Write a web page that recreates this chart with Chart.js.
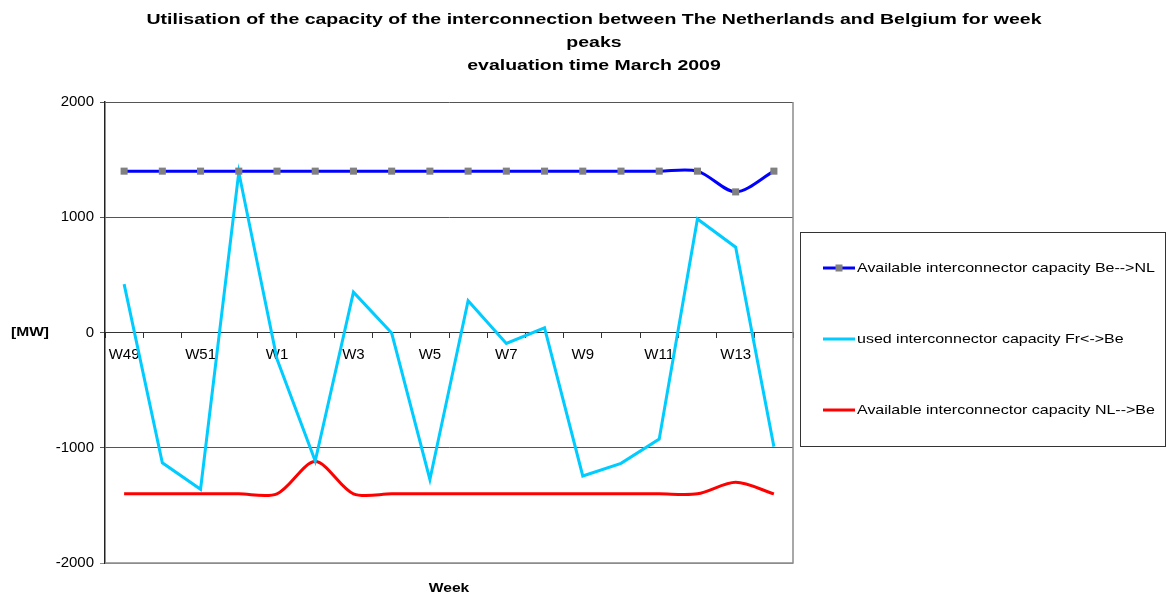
<!DOCTYPE html>
<html>
<head>
<meta charset="utf-8">
<script src="https://cdn.jsdelivr.net/npm/chart.js@4.4.1/dist/chart.umd.min.js"></script>
<style>
  html, body { margin: 0; padding: 0; background: #fff; }
  #wrap { position: relative; width: 1166px; height: 594px; }
</style>
</head>
<body>
<div id="wrap"><canvas id="chart"></canvas></div>
<script>
// ===== DATA =====
const weeks = ['W49','W50','W51','W52','W1','W2','W3','W4','W5','W6','W7','W8','W9','W10','W11','W12','W13','W14'];
const capBeNl = [1400,1400,1400,1400,1400,1400,1400,1400,1400,1400,1400,1400,1400,1400,1400,1400,1220,1400];
const usedFrBe = [420,-1130,-1360,1390,-230,-1115,350,-5,-1275,275,-95,40,-1245,-1135,-925,985,740,-990];
const capNlBe = [-1400,-1400,-1400,-1400,-1400,-1120,-1400,-1400,-1400,-1400,-1400,-1400,-1400,-1400,-1400,-1400,-1300,-1400];
const yTicks = [-2000, -1000, 0, 1000, 2000];

const titleLines = [
  'Utilisation of the capacity of the interconnection between The Netherlands and Belgium for week',
  'peaks',
  'evaluation time March 2009'
];

const FONT = '"Liberation Sans", Arial, sans-serif';
Chart.defaults.font.family = FONT;
Chart.defaults.color = '#000';

// text with a little horizontal stretch, like the old Excel export
function stretchText(ctx, text, x, y, font, align, sx) {
  ctx.save();
  ctx.font = font;
  ctx.fillStyle = '#000';
  ctx.textBaseline = 'middle';
  ctx.textAlign = align;
  ctx.translate(x, y);
  ctx.scale(sx, 1);
  ctx.fillText(text, 0, 0);
  ctx.restore();
}

const frame = {
  id: 'frame',
  beforeDatasetsDraw(chart) {
    const { ctx, chartArea: a } = chart;
    ctx.save();
    ctx.strokeStyle = '#8c8c8c';
    ctx.lineWidth = 1.5;
    ctx.beginPath();
    ctx.moveTo(a.right, a.top);
    ctx.lineTo(a.right, a.bottom);
    ctx.lineTo(a.left, a.bottom);
    ctx.stroke();
    ctx.restore();
  }
};

const decor = {
  id: 'decor',
  afterDraw(chart) {
    const { ctx, chartArea: a } = chart;
    // title
    titleLines.forEach((t, i) => stretchText(ctx, t, 594, 20 + i * 23, 'bold 15px ' + FONT, 'center', 1.3));
    // axis titles
    stretchText(ctx, '[MW]', 30, chart.scales.y.getPixelForValue(0), 'bold 13px ' + FONT, 'center', 1.2);
    stretchText(ctx, 'Week', (a.left + a.right) / 2, 588, 'bold 13px ' + FONT, 'center', 1.2);

    // legend box
    const bx = 800.5, by = 232.5, bw = 365, bh = 214;
    ctx.save();
    ctx.strokeStyle = '#333';
    ctx.lineWidth = 1;
    ctx.strokeRect(bx, by, bw, bh);
    chart.data.datasets.forEach((ds, i) => {
      const y = 268 + i * 71;
      ctx.strokeStyle = ds.borderColor;
      ctx.lineWidth = 3;
      ctx.beginPath();
      ctx.moveTo(823, y);
      ctx.lineTo(855, y);
      ctx.stroke();
      if (ds.pointRadius > 0) {
        ctx.fillStyle = ds.pointBackgroundColor;
        ctx.fillRect(839 - 3.5, y - 3.5, 7, 7);
      }
      stretchText(ctx, ds.label, 857, y, '13px ' + FONT, 'left', 1.23);
    });
    ctx.restore();
  }
};

new Chart(document.getElementById('chart'), {
  type: 'line',
  data: {
    labels: weeks,
    datasets: [
      {
        label: 'Available interconnector capacity Be-->NL',
        data: capBeNl,
        borderColor: '#0000ff',
        borderWidth: 3,
        tension: 0.3,
        pointStyle: 'rect',
        pointRadius: 5,
        pointBackgroundColor: '#808080',
        pointBorderColor: '#808080',
        pointBorderWidth: 0
      },
      {
        label: 'used interconnector capacity Fr<->Be',
        data: usedFrBe,
        borderColor: '#00ccff',
        borderWidth: 3,
        tension: 0,
        pointRadius: 0
      },
      {
        label: 'Available interconnector capacity NL-->Be',
        data: capNlBe,
        borderColor: '#ff0000',
        borderWidth: 3,
        tension: 0.3,
        pointRadius: 0
      }
    ]
  },
  options: {
    responsive: true,
    maintainAspectRatio: false,
    animation: false,
    events: [],
    layout: { padding: { left: 10, right: 373, top: 102, bottom: 31 } },
    plugins: {
      legend: { display: false },
      title: { display: false },
      tooltip: { enabled: false }
    },
    scales: {
      x: {
        type: 'category',
        position: { y: 0 },
        offset: true,
        grid: { offset: true, drawOnChartArea: false, tickLength: 5, color: '#333' },
        border: { color: '#333', width: 1 },
        ticks: {
          autoSkip: false,
          maxRotation: 0,
          padding: 8,
          font: { size: 15 },
          callback: (v, i) => (i % 2 === 0 ? weeks[i] : '')
        }
      },
      y: {
        min: -2000,
        max: 2000,
        afterFit: s => { s.width = 95; },
        afterBuildTicks: s => { s.ticks = yTicks.map(v => ({ value: v })); },
        grid: {
          tickLength: 5,
          color: c => (c.tick && c.tick.value === -2000 ? '#8c8c8c' : '#555'),
          lineWidth: 1
        },
        border: { color: '#222', width: 1.5 },
        ticks: { padding: 6, font: { size: 15 }, callback: v => String(v) }
      }
    }
  },
  plugins: [frame, decor]
});
</script>
</body>
</html>
